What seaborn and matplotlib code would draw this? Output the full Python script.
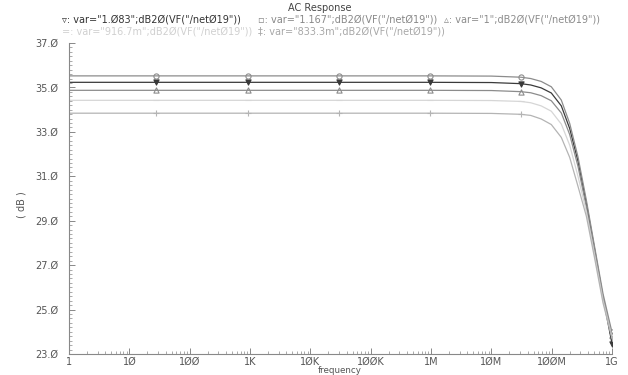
"""
AC Response plot (Cadence-style): dB20 of VF("/net019") for five var sweeps.
"""
import numpy as np
import pandas as pd
import matplotlib
matplotlib.use("Agg")
import matplotlib.pyplot as plt
import seaborn as sns
from matplotlib.ticker import FixedLocator, NullFormatter

# frequency points (Hz); marker positions are part of them
freq = [1, 28.2, 912, 29.5e3, 955e3, 10e6, 30.9e6, 45e6, 67e6, 98.6e6,
        144.5e6, 199e6, 273e6, 376e6, 516e6, 710e6, 1e9]
marker_freq = [28.2, 912, 29.5e3, 955e3, 30.9e6, 1e9]

db_1083 = [35.23, 35.23, 35.23, 35.23, 35.23, 35.22, 35.17, 35.11, 34.98, 34.75,
           34.17, 33.15, 31.68, 29.78, 27.70, 25.55, 23.47]
db_1167 = [35.52, 35.52, 35.52, 35.52, 35.52, 35.51, 35.46, 35.40, 35.27, 35.03,
           34.43, 33.38, 31.87, 29.92, 27.81, 25.71, 23.97]
db_1 = [34.87, 34.87, 34.87, 34.87, 34.87, 34.86, 34.81, 34.76, 34.63, 34.40,
        33.85, 32.88, 31.45, 29.60, 27.58, 25.55, 23.85]
db_9167 = [34.42, 34.42, 34.42, 34.42, 34.42, 34.41, 34.37, 34.31, 34.17, 33.93,
           33.35, 32.40, 31.00, 29.40, 27.45, 25.42, 23.75]
db_8333 = [33.84, 33.84, 33.84, 33.84, 33.84, 33.83, 33.79, 33.74, 33.58, 33.33,
           32.75, 31.85, 30.55, 29.20, 27.30, 25.30, 23.70]

series_names = ["1.083", "1.167", "1", "916.7m", "833.3m"]
series_vals = [db_1083, db_1167, db_1, db_9167, db_8333]

y_ticks = [23, 25, 27, 29, 31, 33, 35, 37]
y_ticklabels = ["23.Ø", "25.Ø", "27.Ø", "29.Ø", "31.Ø", "33.Ø", "35.Ø", "37.Ø"]
x_ticks = [1, 1e1, 1e2, 1e3, 1e4, 1e5, 1e6, 1e7, 1e8, 1e9]
x_ticklabels = ["1", "1Ø", "1ØØ", "1K", "1ØK", "1ØØK", "1M", "1ØM", "1ØØM", "1G"]

colors = {"1.083": "#3a3a3a", "1.167": "#8c8c8c", "1": "#8c8c8c",
          "916.7m": "#d6d6d6", "833.3m": "#b4b4b4"}
markers = {"1.083": "v", "1.167": "o", "1": "^", "916.7m": "_", "833.3m": "+"}
legend_sym = {"1.083": "▿", "1.167": "▫", "1": "▵", "916.7m": "=", "833.3m": "‡"}

# long table for seaborn
rows = []
for name, vals in zip(series_names, series_vals):
    for f, v in zip(freq, vals):
        rows.append({"series": name, "freq": f, "dB": v,
                     "marker": f in marker_freq})
df = pd.DataFrame(rows)

sns.set_theme(style="white")
plt.rcParams["font.family"] = ["DejaVu Sans"]

fig = plt.figure(figsize=(6.28, 3.75), dpi=100)
ax = fig.add_axes([69 / 628, 21 / 375, 543 / 628, 311 / 375])

sns.lineplot(data=df, x="freq", y="dB", hue="series", palette=colors,
             hue_order=series_names, legend=False, linewidth=0.9, ax=ax)
for name in series_names:
    sub = df[(df["series"] == name) & df["marker"]]
    filled = markers[name] in ("v", "o", "^")
    sns.scatterplot(data=sub, x="freq", y="dB", marker=markers[name], s=14,
                    color=colors[name],
                    facecolor="white" if name in ("1.167", "1") else colors[name],
                    edgecolor=colors[name] if filled else None,
                    linewidth=0.8, legend=False, ax=ax)

ax.set_xscale("log")
ax.set_xlim(1, 1e9)
ax.set_ylim(23, 37)
ax.set_xticks(x_ticks)
ax.set_xticklabels(x_ticklabels)
ax.xaxis.set_minor_locator(FixedLocator(
    [m * 10 ** d for d in range(9) for m in range(2, 10)]))
ax.xaxis.set_minor_formatter(NullFormatter())
ax.set_yticks(y_ticks)
ax.set_yticklabels(y_ticklabels)
ax.yaxis.set_minor_locator(FixedLocator(np.arange(23, 37.01, 0.2)))
ax.set_xlabel("")
ax.set_ylabel("")

for side in ["top", "right"]:
    ax.spines[side].set_visible(False)
for side in ["left", "bottom"]:
    ax.spines[side].set_color("#888888")
    ax.spines[side].set_linewidth(0.8)
ax.tick_params(which="both", direction="in", colors="#888888",
               labelcolor="#555555", labelsize=7, left=True, bottom=True)
ax.tick_params(which="major", length=4, width=0.7)
ax.tick_params(which="minor", length=2, width=0.5)
ax.tick_params(axis="y", pad=8)
ax.tick_params(axis="x", pad=2)

fig.text(320 / 628, 1 - 8 / 375, "AC Response", ha="center", va="center",
         fontsize=7, color="#444444")
fig.text(22 / 628, 1 - 205 / 375, "( dB )", rotation=90, ha="center",
         va="center", fontsize=7, color="#555555")
fig.text(340 / 628, 1 - 372.8 / 375, "frequency", ha="center", va="baseline",
         fontsize=6.3, color="#555555")

# legend text rows, coloured like the curves
legend_pos = {"1.083": (62, 20), "1.167": (258, 20), "1": (444, 20),
              "916.7m": (62, 32), "833.3m": (258, 32)}
legend_col = {"1.083": "#333333", "1.167": "#888888", "1": "#8c8c8c",
              "916.7m": "#d0d0d0", "833.3m": "#a8a8a8"}
for name in series_names:
    x, y = legend_pos[name]
    label = f'{legend_sym[name]}: var="{name.replace("0", "Ø")}";dB2Ø(VF("/netØ19"))'
    fig.text(x / 628, 1 - y / 375, label, ha="left", va="center",
             fontsize=7, color=legend_col[name])

fig.savefig("out.png", dpi=100, facecolor="white")
